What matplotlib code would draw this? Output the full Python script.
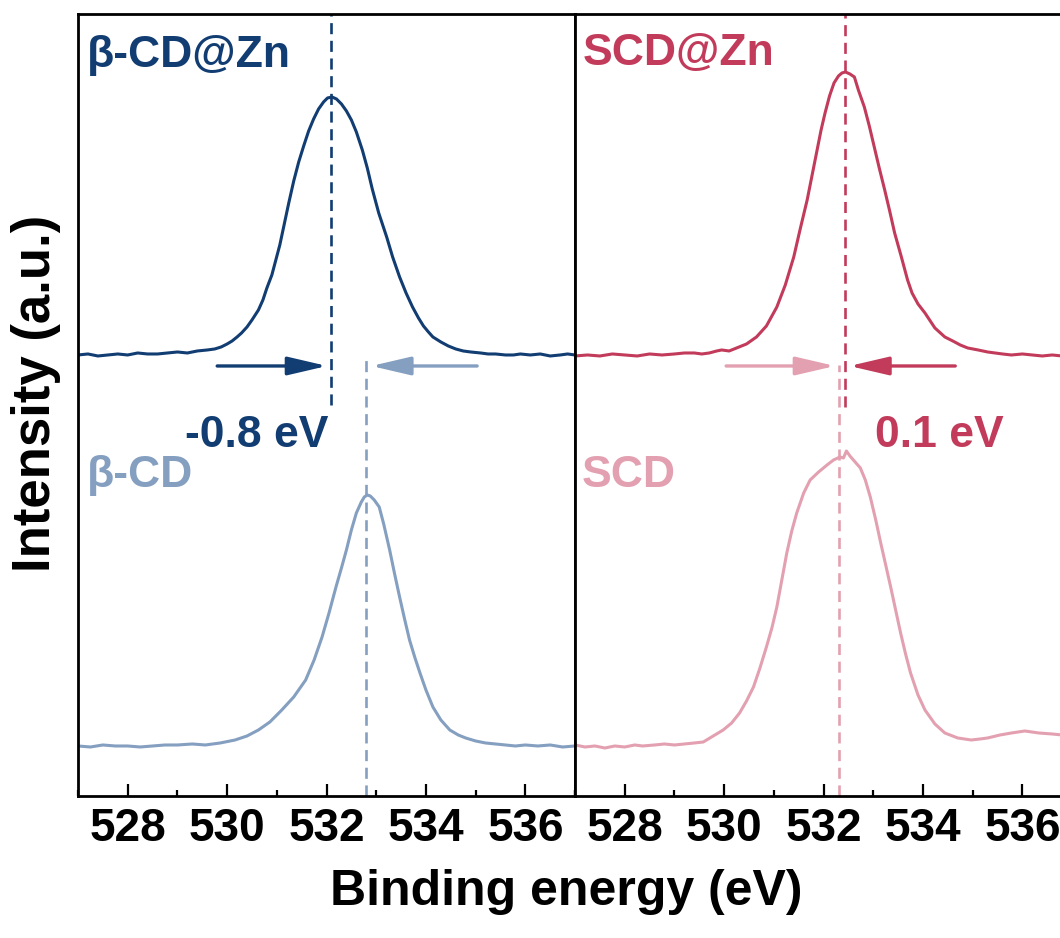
import matplotlib
matplotlib.use('Agg')
import matplotlib.pyplot as plt
from matplotlib.ticker import MultipleLocator

# O 1s spectra, binding energy (eV) vs intensity (a.u., stacked)
be_cdzn = [527.0, 527.2, 527.4, 527.6, 527.8, 528.0, 528.2, 528.4, 528.6, 528.8, 529.0, 529.2,
           529.4, 529.6, 529.75, 529.88, 530.0, 530.1, 530.2, 530.29, 530.4, 530.5, 530.63, 530.72,
           530.8, 530.9, 530.98, 531.06, 531.15, 531.24, 531.34, 531.44, 531.54, 531.64, 531.74,
           531.84, 531.94, 532.02, 532.11, 532.2, 532.3, 532.4, 532.5, 532.6, 532.72, 532.82,
           532.92, 533.05, 533.21, 533.33, 533.47, 533.6, 533.73, 533.85, 533.95, 534.05, 534.14,
           534.3, 534.45, 534.6, 534.75, 534.9, 535.1, 535.25, 535.4, 535.6, 535.76, 535.9, 536.1,
           536.3, 536.5, 536.7, 536.85, 537.0]
int_cdzn = [441, 442, 440, 441, 442, 441, 443, 442, 442, 443, 444, 443,
            445, 446, 447, 449, 452, 455, 459, 463, 469, 476, 486, 496,
            508, 521, 536, 551, 572, 593, 615, 634, 650, 665, 677,
            687, 694, 698, 699, 697, 692, 685, 676, 664, 646, 628,
            607, 583, 559, 539, 519, 503, 489, 478, 470, 464, 459,
            454, 450, 447, 445, 444, 443, 442, 442, 441, 441, 442, 441,
            442, 440, 441, 442, 441]

be_cd = [527.0, 527.25, 527.5, 527.75, 528.0, 528.25, 528.5, 528.75, 529.0, 529.3, 529.56, 529.86,
         530.16, 530.4, 530.63, 530.86, 531.10, 531.34, 531.58, 531.75, 531.91, 532.05, 532.19,
         532.30, 532.40, 532.50, 532.60, 532.70, 532.76, 532.82, 532.88, 532.96, 533.06, 533.15,
         533.27, 533.37, 533.47, 533.57, 533.67, 533.78, 533.88, 534.0, 534.14, 534.3, 534.48,
         534.65, 534.8, 535.0, 535.2, 535.4, 535.6, 535.8, 536.0, 536.25, 536.5, 536.75, 537.0]
int_cd = [50, 49, 51, 50, 50, 49, 50, 51, 51, 52, 51, 53,
          56, 60, 66, 74, 86, 99, 116, 136, 159, 183, 209,
          228, 246, 266, 283, 294, 299, 301, 300, 296, 289, 272,
          246, 222, 199, 177, 156, 138, 123, 106, 89, 76, 66,
          61, 58, 55, 53, 52, 51, 50, 51, 50, 51, 49, 50]

be_scdzn = [527.0, 527.25, 527.5, 527.75, 528.0, 528.25, 528.5, 528.75, 529.0, 529.2, 529.4, 529.55,
            529.70, 529.85, 529.95, 530.1, 530.25, 530.45, 530.65, 530.85, 531.06, 531.23, 531.40,
            531.53, 531.67, 531.77, 531.87, 531.95, 532.03, 532.12, 532.21, 532.30, 532.37, 532.44,
            532.53, 532.62, 532.70, 532.82, 532.92, 533.02, 533.12, 533.23, 533.33, 533.43, 533.56,
            533.69, 533.78, 533.9, 534.04, 534.24, 534.44, 534.6, 534.75, 534.9, 535.11, 535.3,
            535.45, 535.6, 535.78, 536.0, 536.2, 536.4, 536.6, 536.8, 537.0]
int_scdzn = [440, 441, 440, 442, 441, 440, 442, 441, 442, 443, 443, 442,
             443, 445, 446, 445, 448, 452, 459, 470, 489, 511, 539,
             567, 596, 621, 646, 666, 683, 700, 713, 720, 723, 724,
             722, 719, 706, 689, 670, 649, 628, 606, 585, 563, 540,
             516, 503, 492, 483, 468, 459, 455, 451, 448, 446, 444,
             443, 442, 441, 442, 441, 440, 441, 440, 440]

be_scd = [527.0, 527.2, 527.4, 527.6, 527.8, 528.0, 528.2, 528.36, 528.6, 528.8, 529.0, 529.2,
          529.4, 529.58, 529.78, 529.98, 530.15, 530.31, 530.45, 530.59, 530.72, 530.85, 530.96,
          531.06, 531.16, 531.26, 531.36, 531.46, 531.6, 531.73, 531.9, 532.07, 532.2, 532.33,
          532.40, 532.46, 532.53, 532.6, 532.74, 532.84, 532.94, 533.05, 533.15, 533.25, 533.35,
          533.45, 533.55, 533.65, 533.75, 533.9, 534.04, 534.24, 534.44, 534.7, 534.97, 535.15,
          535.3, 535.55, 535.78, 536.05, 536.33, 536.6, 536.8, 537.0]
int_scd = [51, 49, 50, 48, 50, 49, 51, 50, 51, 52, 51, 52,
           53, 54, 60, 66, 73, 83, 95, 109, 128, 149, 168,
           189, 216, 243, 265, 283, 303, 316, 324, 331, 336, 339,
           338, 345, 340, 336, 328, 316, 299, 276, 253, 231, 209,
           186, 163, 142, 123, 101, 86, 72, 63, 58, 56, 57,
           58, 61, 63, 65, 63, 62, 61, 58]

# peak positions (eV)
peak_cdzn = 532.08
peak_cd = 532.8
peak_scdzn = 532.43
peak_scd = 532.32

c_cdzn = '#123d72'
c_cd = '#849fc0'
c_scdzn = '#c23b5b'
c_scd = '#e3a0b1'

plt.rcParams['font.family'] = 'Liberation Sans'
plt.rcParams['font.weight'] = 'bold'

fig = plt.figure(figsize=(10.6, 9.38), dpi=100)
ax1 = fig.add_axes([0.0736, 0.1514, 0.4689, 0.8337])
ax2 = fig.add_axes([0.5425, 0.1514, 0.4689, 0.8337])

for ax in (ax1, ax2):
    ax.set_xlim(527, 537)
    ax.set_ylim(0, 782)
    ax.xaxis.set_major_locator(MultipleLocator(2))
    ax.xaxis.set_minor_locator(MultipleLocator(1))
    ax.tick_params(axis='x', which='major', direction='in', length=9, width=1.6,
                   labelsize=33, pad=8)
    ax.tick_params(axis='x', which='minor', direction='in', length=4.5, width=1.6)
    ax.set_yticks([])
    for s in ax.spines.values():
        s.set_linewidth(2)

lw = 2.2
ax1.plot(be_cdzn, int_cdzn, color=c_cdzn, lw=lw)
ax1.plot(be_cd, int_cd, color=c_cd, lw=lw)
ax2.plot(be_scdzn, int_scdzn, color=c_scdzn, lw=lw)
ax2.plot(be_scd, int_scd, color=c_scd, lw=lw)

dash = (0, (4.2, 2.5))
dlw = 1.9
ax1.plot([peak_cdzn, peak_cdzn], [391, 782], color=c_cdzn, lw=dlw, ls=dash)
ax1.plot([peak_cd, peak_cd], [0, 439], color=c_cd, lw=dlw, ls=dash)
ax2.plot([peak_scdzn, peak_scdzn], [389, 782], color=c_scdzn, lw=dlw, ls=dash)
ax2.plot([peak_scd, peak_scd], [0, 431], color=c_scd, lw=dlw, ls=dash)

astyle = '-|>,head_length=1.2,head_width=0.28'
def arrow(ax, x0, x1, col):
    ax.annotate('', xy=(x1, 430), xytext=(x0, 430),
                arrowprops=dict(arrowstyle=astyle, color=col, lw=2.4, mutation_scale=20,
                                shrinkA=0, shrinkB=0))

arrow(ax1, 529.8, 532.01, c_cdzn)
arrow(ax1, 535.03, 532.9, c_cd)
arrow(ax2, 530.04, 532.23, c_scd)
arrow(ax2, 534.65, 532.52, c_scdzn)

fs = 32
ax1.text(527.18, 729, 'β-CD@Zn', color=c_cdzn, fontsize=fs, fontweight='bold')
ax1.text(527.18, 309, 'β-CD', color=c_cd, fontsize=fs, fontweight='bold')
ax1.text(532.03, 349, '-0.8 eV', color=c_cdzn, fontsize=fs, fontweight='bold', ha='right')
ax2.text(527.16, 731, 'SCD@Zn', color=c_scdzn, fontsize=fs, fontweight='bold')
ax2.text(527.14, 309, 'SCD', color=c_scd, fontsize=fs, fontweight='bold')
ax2.text(533.04, 349, '0.1 eV', color=c_scdzn, fontsize=fs, fontweight='bold')

fig.text(566 / 1060, 0.035, 'Binding energy (eV)', fontsize=36, fontweight='bold',
         ha='center', va='baseline')
fig.text(0.034, 0.581, 'Intensity (a.u.)', fontsize=38, fontweight='bold',
         ha='center', va='center', rotation=90)

fig.savefig('out.png', dpi=100)
